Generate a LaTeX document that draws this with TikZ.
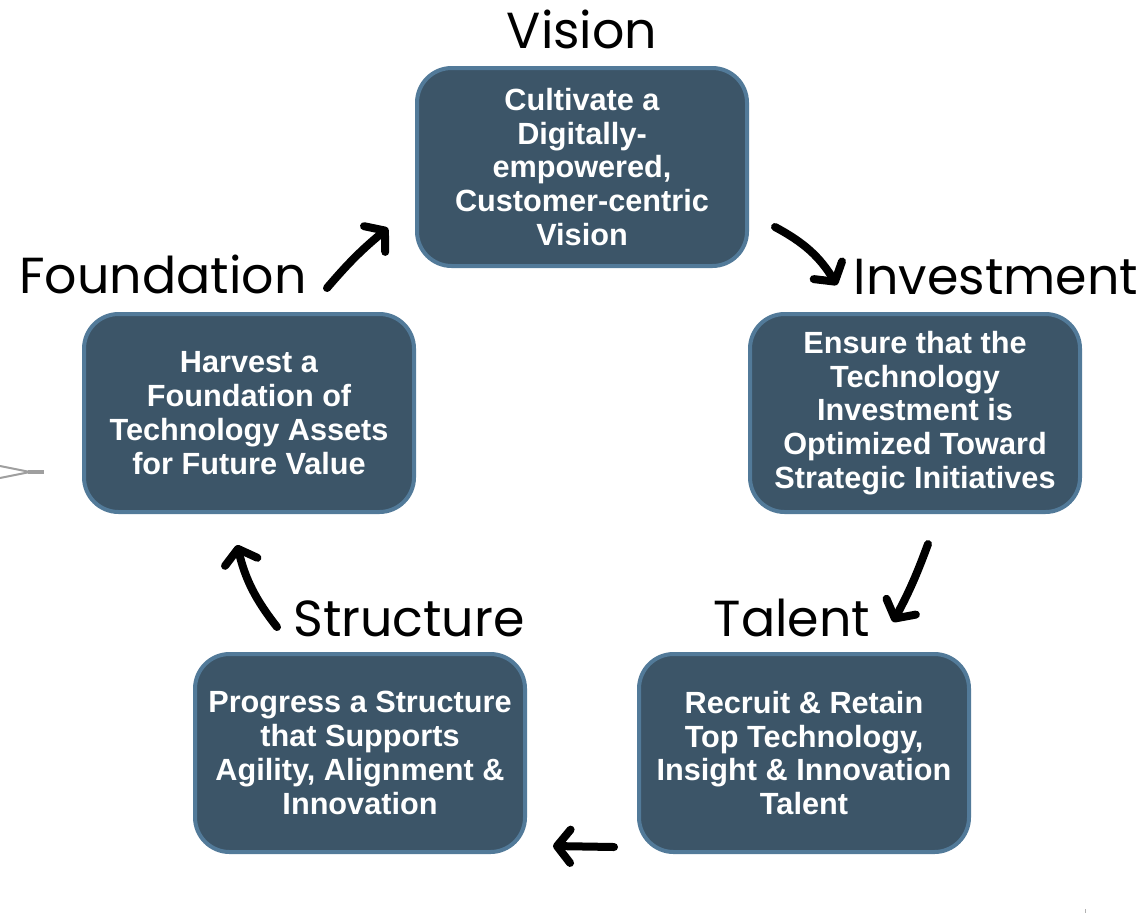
\documentclass[tikz,border=0pt]{standalone}
\usepackage{fontspec}
\setmainfont{Liberation Sans}
\newfontfamily\lblfont{Poppins}
\usetikzlibrary{arrows.meta}
\definecolor{boxfill}{RGB}{60,85,104}
\definecolor{boxedge}{RGB}{82,122,153}

\begin{document}
\begin{tikzpicture}[x=0.75pt,y=0.75pt,
    stage/.style={draw=boxedge, line width=3pt, fill=boxfill, rounded corners=26pt,
      minimum width=247.5pt, minimum height=148.5pt, inner sep=0pt,
      text=white, align=center, font=\fontsize{23}{25.3}\selectfont\bfseries},
    stagelbl/.style={anchor=base, font=\lblfont\fontsize{38}{38}\selectfont},
    flow/.style={line width=6pt, line cap=round, -{Straight Barb[length=10pt,width=25pt,round]}},
  ]
  \useasboundingbox (0,0) rectangle (1148,-915);

  % boxes
  \node[stage] (vision) at (582,-167) {Cultivate a\\Digitally-\\empowered,\\Customer-centric\\Vision};
  \node[stage] (invest) at (915,-413) {Ensure that the\\Technology\\Investment is\\Optimized Toward\\Strategic Initiatives};
  \node[stage] (talent) at (804,-753) {Recruit \& Retain\\Top Technology,\\Insight \& Innovation\\Talent};
  \node[stage] (struct) at (360,-753) {Progress a Structure\\that Supports\\Agility, Alignment \&\\Innovation};
  \node[stage] (found) at (249,-413) {Harvest a\\Foundation of\\Technology Assets\\for Future Value};

  % labels
  \node[stagelbl] (visionlbl) at (582,-48) {Vision};
  \node[stagelbl] (investlbl) at (996,-294) {Investment};
  \node[stagelbl] (talentlbl) at (792,-636) {Talent};
  \node[stagelbl] (structlbl) at (409,-636) {Structure};
  \node[stagelbl] (foundlbl) at (163,-293) {Foundation};

  % arrows
  \coordinate (fv1) at (327,-288);
  \coordinate (fv2) at (388,-228);
  \coordinate (vi1) at (775,-227);
  \coordinate (vi2) at (837,-285);
  \coordinate (it1) at (928,-544);
  \coordinate (it2) at (893,-622);
  \coordinate (ts1) at (614,-847);
  \coordinate (ts2) at (553,-846);
  \coordinate (sf1) at (277,-627);
  \coordinate (sf2) at (237,-545);
  \draw[flow] (fv1) to[bend left=5] (fv2);
  \draw[flow] (vi1) to[bend left=15] (vi2);
  \draw[flow] (it1) to[bend left=4] (it2);
  \draw[flow] (ts1) -- (ts2);
  \draw[flow] (sf1) to[bend left=12] (sf2);

  % stray marks at the edges
  \draw[gray!75, line width=1.5pt] (0,-466) -- (30,-472) -- (0,-478);
  \draw[gray!75, line width=3pt] (28,-472) -- (44,-472);
  \draw[gray!60, line width=0.75pt] (1085,-909) -- (1085,-913);
\end{tikzpicture}
\end{document}
